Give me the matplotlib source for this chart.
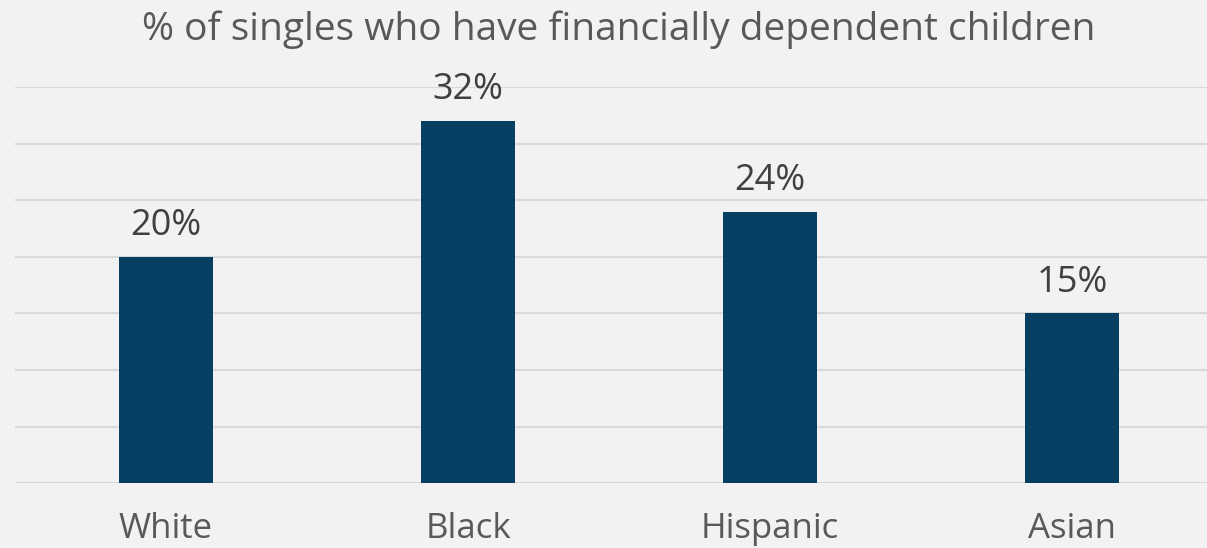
import numpy as np
import matplotlib.pyplot as plt

categories = ["White", "Black", "Hispanic", "Asian"]
values = [20, 32, 24, 15]
value_labels = ["20%", "32%", "24%", "15%"]

plt.rcParams['font.family'] = ['Open Sans', 'DejaVu Sans']

bg = "#F2F2F2"
fig = plt.figure(figsize=(12.07, 5.48), dpi=100, facecolor=bg)
ax = fig.add_axes([15 / 1207, 64.7 / 548, 1208 / 1207, 396.3 / 548], facecolor=bg)

x = np.arange(len(categories))
bars = ax.bar(x, values, width=0.31, color="#073F63", zorder=3)

for b, lab in zip(bars, value_labels):
    ax.annotate(lab, (b.get_x() + b.get_width() / 2, b.get_height()),
                xytext=(0, 9), textcoords="offset points",
                ha="center", va="bottom", fontsize=26, color="#404040")

ax.set_xlim(-0.5, 3.5)
ax.set_ylim(0, 35)
ax.set_yticks(np.arange(0, 36, 5))
ax.yaxis.grid(True, color="#D9D9D9", linewidth=1.5, zorder=0)
ax.set_yticklabels([])
ax.tick_params(axis="y", length=0)
ax.tick_params(axis="x", length=0, pad=21, labelsize=25, labelcolor="#595959")
ax.set_xticks(x)
ax.set_xticklabels(categories)
for s in ax.spines.values():
    s.set_visible(False)

fig.text(619 / 1207, 1 - 30 / 548,
         "% of singles who have financially dependent children",
         ha="center", va="center", fontsize=28, color="#595959")

fig.savefig("out.png", dpi=100, facecolor=bg)
